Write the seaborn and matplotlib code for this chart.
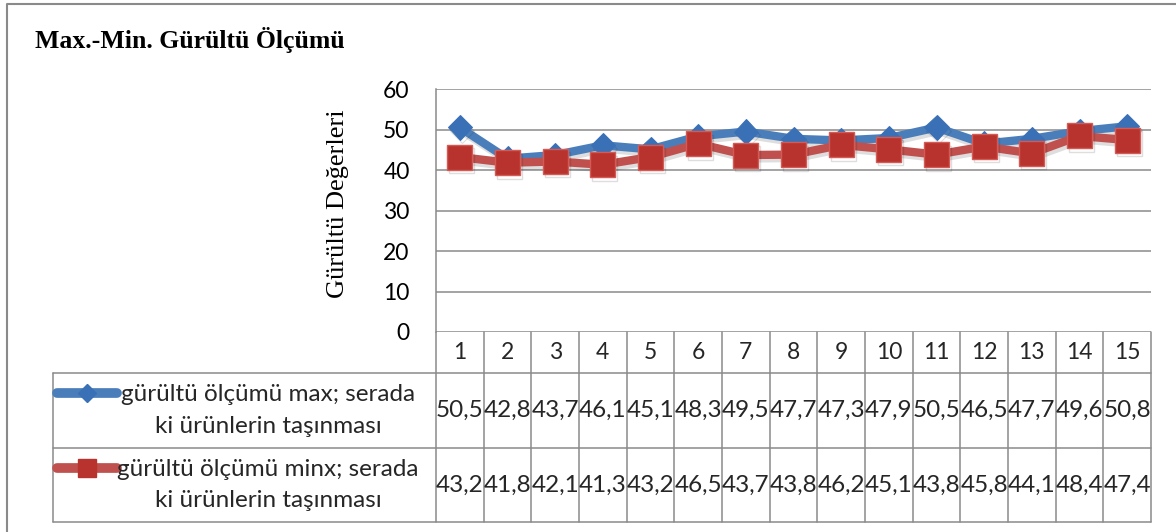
import matplotlib
matplotlib.use("Agg")
import matplotlib.pyplot as plt
import matplotlib.patheffects as pe
import pandas as pd
import seaborn as sns

# data (data table under the plot)
olcum_no = list(range(1, 16))
max_degerler = [50.5, 42.8, 43.7, 46.1, 45.1, 48.3, 49.5, 47.7, 47.3, 47.9, 50.5, 46.5, 47.7, 49.6, 50.8]
min_degerler = [43.2, 41.8, 42.1, 41.3, 43.2, 46.5, 43.7, 43.8, 46.2, 45.1, 43.8, 45.8, 44.1, 48.4, 47.4]
seri_adlari = ["gürültü ölçümü max; serada\nki ürünlerin taşınması",
               "gürültü ölçümü minx; serada\nki ürünlerin taşınması"]
y_ticks = [0, 10, 20, 30, 40, 50, 60]
baslik = "Max.-Min. Gürültü Ölçümü"
y_etiket = "Gürültü Değerleri"

MAVI, MAVI_M = "#4A7EBB", "#3A70B6"
KIRMIZI, KIRMIZI_M = "#C0504D", "#B9332E"
GRI = "#8A8A8A"

sns.set_theme(style="white")
plt.rcParams["font.family"] = ["Lato", "DejaVu Sans"]
SERIF = ["Liberation Serif", "DejaVu Serif"]

W, H = 1176, 532
fig = plt.figure(figsize=(W / 100, H / 100), dpi=100)

# background layer in pixel units (top-left origin) for frame and data table
bg = fig.add_axes([0, 0, 1, 1], zorder=0)
bg.set_xlim(0, W)
bg.set_ylim(H, 0)
bg.axis("off")


def box(l, t, r, b):
    return [l / W, 1 - b / H, (r - l) / W, (b - t) / H]


ax = fig.add_axes(box(436, 89, 1151, 332), zorder=1)
ax.patch.set_alpha(0)

df = pd.DataFrame({"olcum": olcum_no, "max": max_degerler, "min": min_degerler})
golge = [pe.SimpleLineShadow(offset=(1.5, -2.5), shadow_color="k", alpha=0.14), pe.Normal()]

sns.lineplot(data=df, x="olcum", y="max", ax=ax, color=MAVI, linewidth=6,
             marker="D", markersize=12.5, markerfacecolor=MAVI_M, markeredgecolor=MAVI_M,
             path_effects=golge, zorder=3)
sns.lineplot(data=df, x="olcum", y="min", ax=ax, color=KIRMIZI, linewidth=6,
             marker="s", markersize=18, markerfacecolor=KIRMIZI_M, markeredgecolor="#D45A55",
             markeredgewidth=1, path_effects=golge, zorder=4)

ax.set_xlim(0.5, 15.5)
ax.set_ylim(0, 60)
ax.set_yticks(y_ticks)
ax.set_xticks([])
ax.set_xlabel("")
ax.yaxis.grid(True, color=GRI, linewidth=1.1)
ax.set_axisbelow(True)
for s in ["top", "right", "bottom"]:
    ax.spines[s].set_visible(False)
ax.spines["left"].set_color(GRI)
ax.spines["left"].set_linewidth(1.1)
ax.tick_params(axis="y", length=0, pad=19, labelsize=16.5, labelcolor="black")

ax.set_ylabel(y_etiket, family=SERIF, fontsize=19, color="black")
ax.yaxis.set_label_coords(-0.137, 0.53)
ax.yaxis.label.set_va("center")

fig.text(35 / W, 1 - 40 / H, baslik, family=SERIF, fontweight="bold",
         fontsize=18.5, ha="left", va="center", color="black")

# data table: column edges follow the plot's x scale
to_bg = bg.transData.inverted()
kenarlar = [to_bg.transform(ax.transData.transform((i + 0.5, 0)))[0] for i in range(16)]
merkezler = [to_bg.transform(ax.transData.transform((x, 0)))[0] for x in olcum_no]
y0 = to_bg.transform(ax.transData.transform((1, 0)))[1]
satirlar = [y0, 373, 448, 522]
tablo_sol = 53

for x in kenarlar:
    bg.plot([x, x], [satirlar[0], satirlar[-1]], color=GRI, lw=1.1)
for y in satirlar[1:]:
    bg.plot([tablo_sol, kenarlar[-1]], [y, y], color=GRI, lw=1.1)
bg.plot([tablo_sol, tablo_sol], [satirlar[1], satirlar[-1]], color=GRI, lw=1.1)

# outer chart frame (cropped on right/bottom)
bg.plot([7, 7, W + 5], [H + 5, 4, 4], color=GRI, lw=1.5, clip_on=False)

for x, n in zip(merkezler, olcum_no):
    bg.text(x, (satirlar[0] + satirlar[1]) / 2, str(n), ha="center", va="center", fontsize=16.5)

for r, (degerler, ad, renk, mrenk, mk, ms) in enumerate([
        (max_degerler, seri_adlari[0], MAVI, MAVI_M, "D", 9),
        (min_degerler, seri_adlari[1], KIRMIZI, KIRMIZI_M, "s", 13)]):
    yc = (satirlar[r + 1] + satirlar[r + 2]) / 2
    for x, v in zip(merkezler, degerler):
        bg.text(x, yc, f"{v:.1f}".replace(".", ","), ha="center", va="center", fontsize=17.5)
    bg.text(268, yc, ad, ha="center", va="center", fontsize=17.5, linespacing=1.6)
    ly = satirlar[r + 1] + 20
    bg.plot([57, 87, 117], [ly, ly, ly], color=renk, lw=7, solid_capstyle="round",
            marker=mk, markevery=[1], markersize=ms, markerfacecolor=mrenk,
            markeredgecolor=mrenk)

fig.savefig("out.png", dpi=100)
